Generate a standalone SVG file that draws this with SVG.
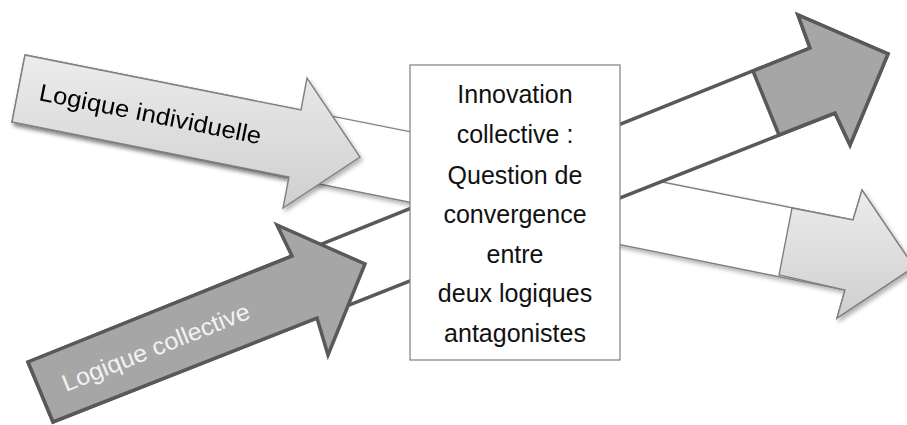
<svg xmlns="http://www.w3.org/2000/svg" width="907" height="425" viewBox="0 0 907 425">
<defs>
<linearGradient id="lg" x1="0" y1="0" x2="0" y2="1">
<stop offset="0" stop-color="#ececec"/>
<stop offset="1" stop-color="#cfcfcf"/>
</linearGradient>
<filter id="sh" x="-10%" y="-10%" width="130%" height="140%">
<feDropShadow dx="2" dy="3" stdDeviation="2" flood-color="#000" flood-opacity="0.3"/>
</filter>
<style>
.light{fill:url(#lg);stroke:#808080;stroke-width:1.4;stroke-linejoin:miter}
.lightbody{fill:#fff;stroke:#808080;stroke-width:1.4}
.dark{fill:#a6a6a6;stroke:#595959;stroke-width:3.5;stroke-linejoin:miter}
.darkbody{fill:#fff;stroke:#595959;stroke-width:3.5}
.box{fill:#fff;stroke:#7f7f7f;stroke-width:1.2}
.bt{font-family:"Liberation Sans",Arial,sans-serif;font-size:25px;fill:#111;text-anchor:middle}
.lbl{font-family:"Liberation Sans",Arial,sans-serif;font-size:24px}
</style>
</defs>
<g id="connectors">
<g id="flow-individuelle" filter="url(#sh)">
<polygon class="lightbody" points="25,55 853,220 862,190 914,267 837,318 845,290 12,122"/>
<polygon class="light" points="792,208 853,220 862,190 914,267 837,318 845,290 779,275"/>
</g>
<g id="flow-collective">
<polygon class="darkbody" points="28,362 810,48 798,15 888,54 850,145 835,113 53,422"/>
<polygon class="dark" points="753,71 810,48 798,15 888,54 850,145 835,113 779,135"/>
</g>
</g>
<g id="node-logique-individuelle" filter="url(#sh)">
<polygon class="light" points="25,55 301,110 307,78 360,157 283,208 289,177 12,122"/>
<text class="lbl" fill="#000" transform="translate(38,100) rotate(11.3)" textLength="226" lengthAdjust="spacingAndGlyphs">Logique individuelle</text>
</g>
<g id="node-logique-collective">
<polygon class="dark" points="28,362 292,256 277,225 365,264 328,355 317,318 53,422"/>
<text class="lbl" fill="#f2f2f2" transform="translate(66,392) rotate(-21.8)" textLength="200" lengthAdjust="spacingAndGlyphs">Logique collective</text>
</g>
<g id="node-innovation">
<rect class="box" x="410" y="65" width="210" height="295"/>
<text class="bt" x="515" y="103">Innovation</text>
<text class="bt" x="515" y="143">collective :</text>
<text class="bt" x="515" y="184">Question de</text>
<text class="bt" x="515" y="223">convergence</text>
<text class="bt" x="515" y="263">entre</text>
<text class="bt" x="515" y="302">deux logiques</text>
<text class="bt" x="515" y="342">antagonistes</text>
</g>
</svg>
